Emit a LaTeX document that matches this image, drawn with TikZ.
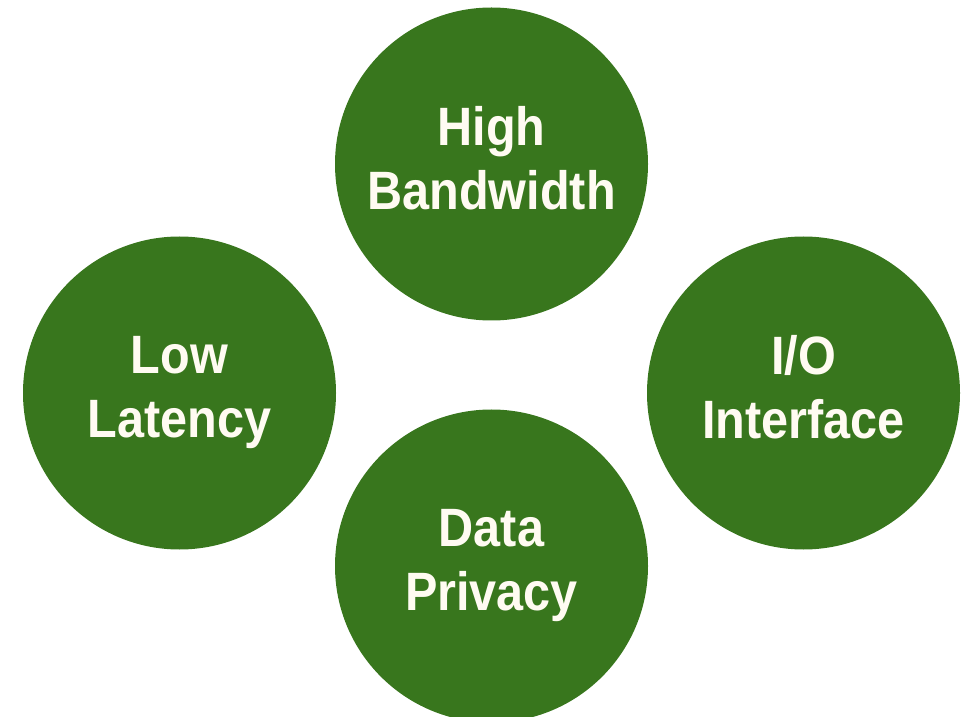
\documentclass[tikz,border=0pt]{standalone}
\usepackage{fontspec}
\newfontfamily\labelfont[FakeStretch=0.9]{Liberation Sans}
\definecolor{circgreen}{HTML}{38761D}
\definecolor{labeltext}{HTML}{FFFBF2}
\tikzset{
  bubble/.style={circle, fill=circgreen, minimum size=313pt, inner sep=0pt},
  bubbletext/.style={text=labeltext, align=center, text depth=12pt, font=\labelfont\bfseries\fontsize{54}{64}\selectfont}
}
\begin{document}
\begin{tikzpicture}[x=1pt,y=1pt]
\useasboundingbox (0,0) rectangle (967,716);
\begin{scope}
\clip (0,0) rectangle (967,716);
\node[bubble] (top) at (491.5,552) {};
\node[bubble] (left) at (179.5,323) {};
\node[bubble] (right) at (803.5,323) {};
\node[bubble] (bottom) at (491.5,150) {};
\end{scope}
\node[bubbletext] (toptext) at (top.center) {High\\Bandwidth};
\node[bubbletext] (lefttext) at (left.center) {Low\\Latency};
\node[bubbletext] (righttext) at (right.center) {I/O\\Interface};
\node[bubbletext] (bottomtext) at (bottom.center) {Data\\Privacy};
\end{tikzpicture}
\end{document}
